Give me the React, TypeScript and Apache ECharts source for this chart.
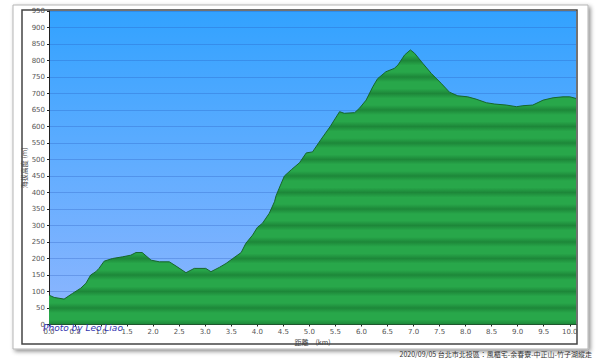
import React, { useEffect, useRef } from "react";
import * as echarts from "echarts";

const distancesKm = [
  0.0, 0.1, 0.29, 0.45, 0.61, 0.71, 0.8, 0.9, 0.96, 1.06, 1.22, 1.41, 1.57, 1.67, 1.79, 1.96,
  2.12, 2.31, 2.44, 2.63, 2.79, 3.01, 3.11, 3.27, 3.4, 3.53, 3.69, 3.78, 3.91, 4.0, 4.1, 4.23,
  4.33, 4.36, 4.42, 4.52, 4.66, 4.81, 4.94, 5.06, 5.22, 5.4, 5.58, 5.67, 5.87, 5.96, 6.09, 6.22,
  6.31, 6.47, 6.63, 6.7, 6.83, 6.94, 7.02, 7.18, 7.34, 7.53, 7.69, 7.85, 8.04, 8.2, 8.4, 8.56,
  8.78, 8.98, 9.1, 9.29, 9.49, 9.68, 9.87, 10.0, 10.12,
];
const elevationsM = [
  89, 82, 77, 94, 110, 125, 150, 160, 170, 192, 200, 205, 210, 218, 218, 195,
  190, 190, 177, 157, 170, 170, 160, 173, 185, 200, 218, 246, 271, 294, 307, 337,
  372, 390, 413, 450, 470, 490, 520, 523, 560, 600, 645, 640, 642, 655, 680, 721,
  745, 766, 776, 786, 817, 832, 822, 791, 761, 731, 704, 693, 690, 683, 672, 668,
  665, 660, 663, 665, 680, 687, 690, 690, 685,
];
const yMin = 0;
const yMax = 950;
const yInterval = 50;
const xMin = 0;
const xMax = 10.12;
const xInterval = 0.5;
const xAxisTitle = "距離　(km)";
const yAxisTitle = "海拔高度 (m)";
const watermark = "Photo by Leo Liao";
const caption = "2020/09/05 台北市北投區：風櫃宅-余春寮-中正山-竹子湖縱走";

const W = 600;
const H = 361;
const GRID_LEFT = 49;
const GRID_RIGHT_X = 576;
const GRID_TOP = 11;
const GRID_BOTTOM_Y = 324.5;

function bandStops() {
  const stops: { offset: number; color: string }[] = [];
  const span = yMax - yMin;
  for (let v = yMin; v <= yMax; v += yInterval) {
    const t = 1 - (v - yMin) / span;
    const d = 15 / span;
    if (t - d >= 0) stops.push({ offset: t - d, color: "#28a74a" });
    stops.push({ offset: Math.min(1, Math.max(0, t)), color: "#1d8739" });
    if (t + d <= 1) stops.push({ offset: t + d, color: "#28a74a" });
  }
  return stops.sort((a, b) => a.offset - b.offset);
}

export default function App() {
  const ref = useRef<HTMLDivElement>(null);
  useEffect(() => {
    if (!ref.current) return;
    const chart = echarts.init(ref.current, null, { renderer: "svg" });
    const data = distancesKm.map((d, i) => [d, elevationsM[i]]);
    const green = new echarts.graphic.LinearGradient(0, GRID_TOP, 0, GRID_BOTTOM_Y, bandStops(), true);
    const sky = new echarts.graphic.LinearGradient(0, 0, 0, 1, [
      { offset: 0, color: "#32a2ff" },
      { offset: 0.5, color: "#62adff" },
      { offset: 1, color: "#8fb6fe" },
    ]);
    chart.setOption({
      animation: false,
      backgroundColor: "#ffffff",
      graphic: [
        {
          type: "rect",
          z: -10,
          shape: { x: 13, y: 5, width: 575, height: 344 },
          style: {
            fill: "#ffffff",
            stroke: "#b5b5b5",
            lineWidth: 1,
            shadowBlur: 4,
            shadowOffsetX: 2,
            shadowOffsetY: 2,
            shadowColor: "rgba(0,0,0,0.45)",
          },
        },
        {
          type: "rect",
          z: -9,
          shape: { x: 22, y: 10, width: 555, height: 334 },
          style: { fill: "#ffffff", stroke: "#444444", lineWidth: 1.5 },
        },
        {
          type: "text",
          z: 100,
          left: 43,
          top: 323,
          style: {
            text: watermark,
            fill: "#3333b0",
            font: "italic 9px 'DejaVu Sans'",
          },
        },
        {
          type: "text",
          right: 8,
          top: 350,
          style: {
            text: caption,
            fill: "#333333",
            font: "7px 'Noto Sans CJK TC'",
          },
        },
      ],
      grid: {
        left: GRID_LEFT,
        right: W - GRID_RIGHT_X,
        top: GRID_TOP,
        bottom: H - GRID_BOTTOM_Y,
        show: true,
        backgroundColor: sky,
        borderWidth: 0,
      },
      xAxis: {
        type: "value",
        min: xMin,
        max: xMax,
        interval: xInterval,
        name: xAxisTitle,
        nameLocation: "middle",
        nameGap: 14,
        nameMoveOverlap: false,
        nameTextStyle: { fontSize: 7, color: "#444", fontFamily: "'Noto Sans CJK TC'" },
        axisLine: { show: true, lineStyle: { color: "#222", width: 1 } },
        axisTick: { show: true, length: 2, lineStyle: { color: "#222" } },
        axisLabel: {
          fontSize: 7,
          color: "#555",
          margin: 4,
          fontFamily: "'DejaVu Sans'",
          showMaxLabel: false,
          formatter: (v: number) => (Math.abs(v / xInterval - Math.round(v / xInterval)) < 1e-6 ? v.toFixed(1) : ""),
        },
        splitLine: { show: false },
      },
      yAxis: {
        type: "value",
        min: yMin,
        max: yMax,
        interval: yInterval,
        name: yAxisTitle,
        nameLocation: "middle",
        nameGap: 22,
        nameMoveOverlap: false,
        nameRotate: 90,
        nameTextStyle: { fontSize: 7, color: "#444", fontFamily: "'Noto Sans CJK TC'" },
        axisLine: { show: true, lineStyle: { color: "#222", width: 1 } },
        axisTick: { show: true, length: 2, lineStyle: { color: "#222" } },
        axisLabel: { fontSize: 7, color: "#555", margin: 4, fontFamily: "'DejaVu Sans'" },
        splitLine: { show: true, lineStyle: { color: "rgba(40,90,190,0.3)", width: 1 } },
      },
      series: [
        {
          type: "line",
          data,
          symbol: "none",
          smooth: false,
          z: 2,
          lineStyle: { color: "#17662b", width: 1 },
          areaStyle: { color: green, opacity: 1 },
        },
      ],
    });
    return () => chart.dispose();
  }, []);
  return (
    <div
      ref={ref}
      style={{ position: "fixed", left: 0, top: 0, width: W, height: H }}
    />
  );
}
